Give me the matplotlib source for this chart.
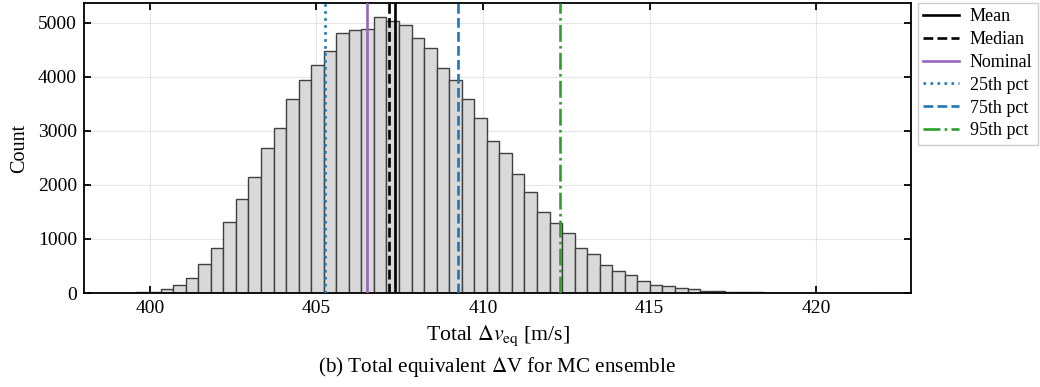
import numpy as np
import matplotlib
matplotlib.use("Agg")
import matplotlib.pyplot as plt

# ---- data ----
bin_lo, bin_hi, n_bins = 399.19, 421.79, 60
counts = [3, 10, 25, 74, 154, 283, 530, 825, 1312, 1737,
          2156, 2679, 3049, 3591, 3936, 4213, 4478, 4810, 4872, 4896,
          5120, 5038, 4970, 4730, 4545, 4163, 3942, 3597, 3233, 2808,
          2587, 2199, 1866, 1497, 1287, 1102, 831, 714, 524, 413,
          333, 228, 157, 130, 100, 68, 40, 40, 24, 18,
          12, 8, 6, 5, 4, 3, 2, 2, 1, 1]

stat_labels = ["Mean", "Median", "Nominal", "25th pct", "75th pct", "95th pct"]
stat_values = [407.37, 407.18, 406.53, 405.26, 409.26, 412.30]
stat_colors = ["black", "black", "#9467bd", "#1f77b4", "#1f77b4", "#2ca02c"]
stat_styles = ["-", "--", "-", ":", "--", "-."]

xticks = [400, 405, 410, 415, 420]
yticks = [0, 1000, 2000, 3000, 4000, 5000]

plt.rcParams["font.family"] = ["Liberation Serif", "DejaVu Serif"]
plt.rcParams["mathtext.fontset"] = "stix"

fig = plt.figure(figsize=(10.4, 3.87), dpi=100)
ax = fig.add_axes([84 / 1040, (387 - 293) / 387, 827 / 1040, 290 / 387])

edges = np.linspace(bin_lo, bin_hi, n_bins + 1)
centers = 0.5 * (edges[:-1] + edges[1:])
ax.hist(centers, bins=edges, weights=counts, facecolor="#d9d9d9",
        edgecolor="#404040", linewidth=1.0, zorder=2)

for lab, v, c, s in zip(stat_labels, stat_values, stat_colors, stat_styles):
    ax.axvline(v, color=c, linestyle=s, linewidth=1.9, label=lab, zorder=3)

ax.set_xlim(398.02, 422.85)
ax.set_ylim(0, 5370)
ax.set_xticks(xticks)
ax.set_yticks(yticks)
ax.grid(True, color="#e6e6e6", linewidth=0.8, zorder=0)
ax.set_axisbelow(True)
ax.tick_params(direction="in", top=True, right=True, length=5, width=1.3,
               labelsize=14)
ax.tick_params(axis="x", pad=5)
ax.tick_params(axis="y", pad=5)
for sp in ax.spines.values():
    sp.set_linewidth(1.3)

ax.set_xlabel(r"Total $\Delta v_{\mathrm{eq}}$ [m/s]", fontsize=15.7, labelpad=5)
ax.set_ylabel("Count", fontsize=14.5, labelpad=6)

leg = ax.legend(loc="upper left", bbox_to_anchor=(1.008, 1.0), borderaxespad=0,
                fontsize=13, labelspacing=0.32, handlelength=2.0,
                fancybox=False, framealpha=1, edgecolor="#cccccc",
                borderpad=0.3, handletextpad=0.6)
leg.get_frame().set_linewidth(1.0)

fig.text(497.5 / 1040, 1 - 367 / 387, r"(b) Total equivalent $\Delta$V for MC ensemble",
         ha="center", va="center", fontsize=15.2)

fig.savefig("out.png", dpi=100)
